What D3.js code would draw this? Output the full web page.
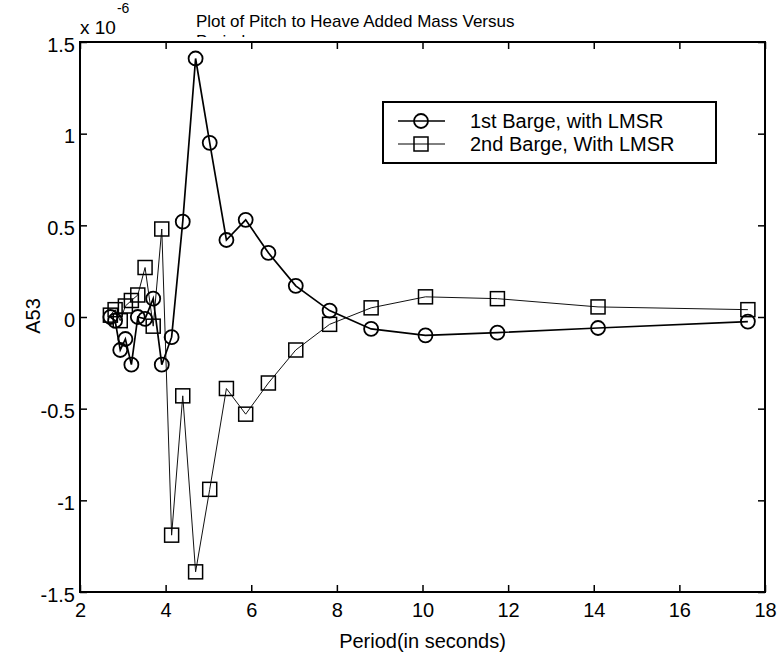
<!DOCTYPE html>
<html>
<head>
<meta charset="utf-8">
<script src="https://cdn.jsdelivr.net/npm/d3@7"></script>
<style>
body { margin: 0; background: #fff; }
text { font-family: Arial, "Liberation Sans", Helvetica, sans-serif; fill: #000; }
</style>
</head>
<body>
<svg id="chart" width="780" height="658"></svg>
<script>
// wave periods (s)
var period = [2.71, 2.82, 2.94, 3.06, 3.20, 3.35, 3.52, 3.71, 3.91, 4.14, 4.40, 4.70,
	5.03, 5.42, 5.87, 6.40, 7.04, 7.83, 8.80, 10.07, 11.75, 14.10, 17.60];

// A53 values, units of 1e-6
var barge1 = [0.00, -0.02, -0.18, -0.12, -0.26, 0.00, -0.01, 0.10, -0.26, -0.11, 0.52, 1.41,
	0.95, 0.42, 0.53, 0.35, 0.17, 0.035, -0.065, -0.10, -0.085, -0.06, -0.025];
var barge2 = [0.01, 0.04, -0.02, 0.06, 0.09, 0.12, 0.27, -0.05, 0.48, -1.19, -0.43, -1.39,
	-0.94, -0.39, -0.53, -0.36, -0.18, -0.04, 0.05, 0.11, 0.10, 0.055, 0.04];

var seriesNames = ['1st Barge, with LMSR', '2nd Barge, With LMSR'];

var xTicks = [2, 4, 6, 8, 10, 12, 14, 16, 18];
var yTicks = [-1.5, -1, -0.5, 0, 0.5, 1, 1.5];

// plot box
var plotLeft = 80, plotRight = 765, plotTop = 42, plotBottom = 592;
var labelSize = '20px';
var svg = d3.select('#chart');

var x = d3.scaleLinear().domain([2, 18]).range([plotLeft, plotRight]);
var y = d3.scaleLinear().domain([-1.5, 1.5]).range([plotBottom, plotTop]);

// title, second line mostly hidden behind the axes
svg.append('text').attr('x', 196).attr('y', 27).style('font-size', '17px')
	.text('Plot of Pitch to Heave Added Mass Versus');
svg.append('clipPath').attr('id', 'tclip').append('rect')
	.attr('x', 0).attr('y', 0).attr('width', 780).attr('height', 37);
svg.append('text').attr('x', 196).attr('y', 47).style('font-size', '17px')
	.attr('clip-path', 'url(#tclip)').text('Period');

// exponent label
var expo = svg.append('text').attr('x', 80).attr('y', 34).style('font-size', '19px');
expo.append('tspan').text('x 10');
expo.append('tspan').attr('dx', 1).attr('dy', -21).style('font-size', '14px').text('-6');

// axes with inward ticks
var gx = svg.append('g').attr('transform', 'translate(0,' + plotBottom + ')')
	.call(d3.axisBottom(x).tickValues(xTicks).tickSize(-7).tickPadding(11).tickFormat(d3.format('d')));
var gxt = svg.append('g').attr('transform', 'translate(0,' + plotTop + ')')
	.call(d3.axisTop(x).tickValues(xTicks).tickSize(-7).tickFormat(''));
var gy = svg.append('g').attr('transform', 'translate(' + plotLeft + ',0)')
	.call(d3.axisLeft(y).tickValues(yTicks).tickSize(-7).tickPadding(5).tickFormat(function(d) { return String(d); }));
var gyr = svg.append('g').attr('transform', 'translate(' + plotRight + ',0)')
	.call(d3.axisRight(y).tickValues(yTicks).tickSize(-7).tickFormat(''));

[gx, gxt, gy, gyr].forEach(function(g) {
	g.select('.domain').remove();
	g.selectAll('line').attr('stroke', '#000').attr('stroke-width', 1.5);
	g.selectAll('text').style('font-size', labelSize).attr('font-family', null).attr('fill', '#000');
});
gx.selectAll('text').attr('dy', '0.71em');
gy.selectAll('text').attr('dy', '0.45em');

svg.append('rect').attr('x', plotLeft).attr('y', plotTop)
	.attr('width', plotRight - plotLeft).attr('height', plotBottom - plotTop)
	.attr('fill', 'none').attr('stroke', '#000').attr('stroke-width', 2);

// axis labels
svg.append('text').attr('x', (plotLeft + plotRight) / 2).attr('y', 648)
	.attr('text-anchor', 'middle').style('font-size', labelSize).text('Period(in seconds)');
svg.append('text').attr('transform', 'translate(40,316) rotate(-90)')
	.attr('text-anchor', 'middle').style('font-size', labelSize).text('A53');

// series
var line = d3.line().x(function(d) { return x(d[0]); }).y(function(d) { return y(d[1]); });
var pts1 = period.map(function(p, i) { return [p, barge1[i]]; });
var pts2 = period.map(function(p, i) { return [p, barge2[i]]; });

svg.append('path').datum(pts2).attr('d', line)
	.attr('fill', 'none').attr('stroke', '#111').attr('stroke-width', 1);
svg.selectAll('rect.sq').data(pts2).enter().append('rect').classed('sq', true)
	.attr('x', function(d) { return x(d[0]) - 7; })
	.attr('y', function(d) { return y(d[1]) - 7; })
	.attr('width', 14).attr('height', 14)
	.attr('fill', 'none').attr('stroke', '#000').attr('stroke-width', 1.5);

svg.append('path').datum(pts1).attr('d', line)
	.attr('fill', 'none').attr('stroke', '#000').attr('stroke-width', 1.7);
svg.selectAll('circle.ci').data(pts1).enter().append('circle').classed('ci', true)
	.attr('cx', function(d) { return x(d[0]); })
	.attr('cy', function(d) { return y(d[1]); })
	.attr('r', 7)
	.attr('fill', 'none').attr('stroke', '#000').attr('stroke-width', 1.8);

// legend
var lg = svg.append('g');
lg.append('rect').attr('x', 383).attr('y', 102).attr('width', 333).attr('height', 61)
	.attr('fill', '#fff').attr('stroke', '#000').attr('stroke-width', 2);
seriesNames.forEach(function(name, i) {
	var ly = 121 + i * 23;
	lg.append('line').attr('x1', 398).attr('x2', 445).attr('y1', ly).attr('y2', ly)
		.attr('stroke', '#000').attr('stroke-width', i === 0 ? 1.7 : 1);
	if (i === 0) {
		lg.append('circle').attr('cx', 421).attr('cy', ly).attr('r', 7)
			.attr('fill', 'none').attr('stroke', '#000').attr('stroke-width', 1.8);
	} else {
		lg.append('rect').attr('x', 421 - 7).attr('y', ly - 7).attr('width', 14).attr('height', 14)
			.attr('fill', 'none').attr('stroke', '#000').attr('stroke-width', 1.5);
	}
	lg.append('text').attr('x', 470).attr('y', ly + 7).style('font-size', labelSize).text(name);
});
</script>
</body>
</html>
